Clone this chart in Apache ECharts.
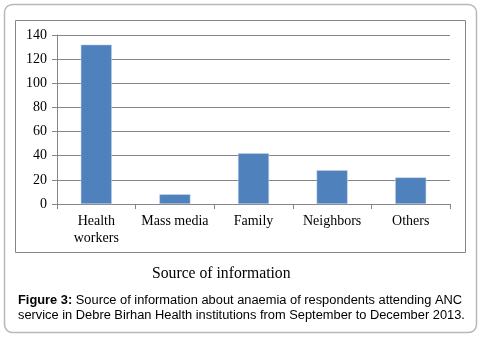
<!DOCTYPE html>
<html><head><meta charset="utf-8">
<script src="https://cdn.jsdelivr.net/npm/echarts@6/dist/echarts.min.js"></script>
<style>html,body{margin:0;padding:0;background:#fff}#c{width:480px;height:337px}</style>
</head><body><div id="c"></div>
<script>
const categories = ['Health\nworkers', 'Mass media', 'Family', 'Neighbors', 'Others'];
const values = [132, 8, 42, 28, 22];
const yTicks = [0, 20, 40, 60, 80, 100, 120, 140];

const chart = echarts.init(document.getElementById('c'), null, {renderer: 'canvas'});
chart.setOption({
  animation: false,
  backgroundColor: '#fff',
  grid: {left: 57, top: 35, width: 393, height: 169, containLabel: false},
  xAxis: {
    type: 'category', data: categories,
    axisLine: {lineStyle: {color: '#868686', width: 1}},
    axisTick: {show: true, length: 5, lineStyle: {color: '#868686'}},
    axisLabel: {interval: 0, fontFamily: 'Liberation Serif', fontSize: 14, color: '#000', margin: 9, lineHeight: 17}
  },
  yAxis: {
    type: 'value', min: yTicks[0], max: yTicks[yTicks.length - 1], interval: 20,
    axisLine: {show: true, lineStyle: {color: '#868686', width: 1}},
    axisTick: {show: true, length: 5, lineStyle: {color: '#868686'}},
    splitLine: {lineStyle: {color: '#868686', width: 1}},
    axisLabel: {fontFamily: 'Liberation Serif', fontSize: 14, color: '#000', margin: 10}
  },
  series: [{
    type: 'bar', data: values, barWidth: 31,
    itemStyle: {color: '#4f81bd', borderColor: '#c6d5e9', borderWidth: 0.5}
  }],
  graphic: [
    {type: 'rect', shape: {x: 4.5, y: 4.5, width: 472, height: 328, r: 8}, style: {fill: null, stroke: '#b8b8b8', lineWidth: 1.5}, z: -1},
    {type: 'rect', shape: {x: 15.5, y: 20.5, width: 450, height: 232}, style: {fill: null, stroke: '#868686', lineWidth: 1}, z: -1},
    {type: 'text', left: 152, top: 266, style: {text: 'Source of information', font: '15.7px "Liberation Serif"', fill: '#000'}},
    {type: 'text', left: 18, top: 294, style: {
      rich: {b: {fontFamily: 'Liberation Sans', fontWeight: 'bold', fontSize: 12.85, fill: '#000'},
             n: {fontFamily: 'Liberation Sans', fontSize: 12.85, fill: '#000'}},
      text: '{b|Figure 3:}{n| Source of information about anaemia of respondents attending ANC}', fill: '#000'}},
    {type: 'text', left: 18, top: 309, style: {text: 'service in Debre Birhan Health institutions from September to December 2013.', font: '12.85px "Liberation Sans"', fill: '#000'}}
  ]
});
</script></body></html>
